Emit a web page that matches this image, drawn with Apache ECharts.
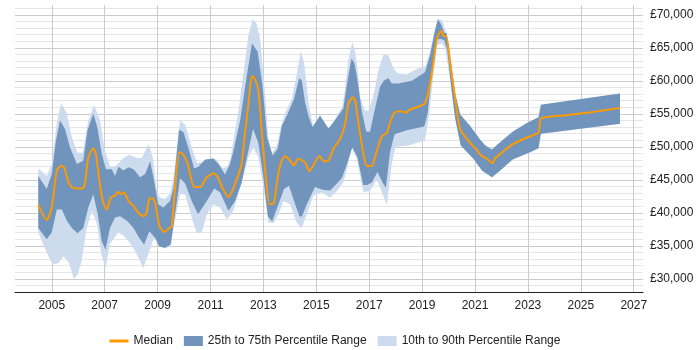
<!DOCTYPE html>
<html>
<head>
<meta charset="utf-8">
<script src="https://cdn.jsdelivr.net/npm/echarts@6/dist/echarts.min.js"></script>
<style>html,body{margin:0;padding:0;background:#fff}#chart{width:700px;height:350px}</style>
</head>
<body>
<div id="chart"></div>
<script>
// [year, salary]
const median = [[2004.49,41200],[2004.81,38900],[2005.00,40800],[2005.19,46400],[2005.34,47100],[2005.47,46900],[2005.63,44600],[2005.79,43800],[2006.01,43700],[2006.17,43700],[2006.26,44600],[2006.38,48400],[2006.57,49800],[2006.67,48900],[2006.80,44900],[2006.93,41800],[2007.08,40500],[2007.23,42300],[2007.39,42600],[2007.52,43200],[2007.61,42800],[2007.73,43100],[2007.90,41800],[2008.09,41000],[2008.27,40000],[2008.46,39500],[2008.57,39800],[2008.69,42100],[2008.82,42200],[2008.91,41500],[2009.07,38000],[2009.25,37100],[2009.45,37700],[2009.54,38000],[2009.66,43800],[2009.82,49200],[2009.98,48800],[2010.16,47100],[2010.38,43900],[2010.61,43900],[2010.86,45400],[2011.11,46000],[2011.28,45400],[2011.45,43800],[2011.68,42400],[2011.87,43800],[2012.16,47100],[2012.31,52200],[2012.43,56300],[2012.56,60700],[2012.65,60500],[2012.81,58600],[2012.94,52200],[2013.10,45100],[2013.23,41300],[2013.40,41500],[2013.53,45100],[2013.66,47600],[2013.82,48600],[2014.01,47900],[2014.16,47200],[2014.32,48200],[2014.58,47600],[2014.73,46300],[2014.89,47200],[2015.12,48600],[2015.29,47800],[2015.46,47900],[2015.65,49700],[2015.90,51200],[2016.09,53500],[2016.21,56500],[2016.37,57500],[2016.47,57000],[2016.59,53700],[2016.78,48900],[2016.91,47100],[2017.10,47100],[2017.22,48400],[2017.35,50200],[2017.50,51700],[2017.67,52100],[2017.79,53700],[2017.95,55200],[2018.17,55400],[2018.42,55200],[2018.51,55600],[2018.80,56000],[2019.11,56600],[2019.30,59500],[2019.43,62900],[2019.56,66400],[2019.72,67600],[2019.81,66800],[2019.91,66800],[2020.06,62800],[2020.22,58100],[2020.44,52700],[2020.81,50600],[2021.04,49700],[2021.22,48700],[2021.45,48200],[2021.66,47500],[2021.76,48300],[2022.07,49300],[2022.39,50300],[2022.89,51300],[2023.40,52200],[2023.49,54300],[2024.47,54800],[2025.48,55300],[2026.48,55900]];

const p75 = [[2004.49,45600],[2004.81,43600],[2005.00,45900],[2005.16,51000],[2005.31,54000],[2005.50,52700],[2005.69,49900],[2005.95,47400],[2006.19,47900],[2006.35,52500],[2006.57,55000],[2006.72,53000],[2006.89,48900],[2007.05,46600],[2007.27,46600],[2007.39,45600],[2007.52,47000],[2007.71,46400],[2007.90,46900],[2008.09,46600],[2008.34,45400],[2008.53,45900],[2008.72,47800],[2008.84,45400],[2009.03,41300],[2009.22,40800],[2009.47,41800],[2009.60,43800],[2009.81,52600],[2009.98,52200],[2010.16,49900],[2010.38,46700],[2010.54,47000],[2010.80,48100],[2011.11,48200],[2011.30,47400],[2011.55,45800],[2011.74,47400],[2011.87,49400],[2012.12,54000],[2012.37,60700],[2012.57,65700],[2012.78,64400],[2012.97,59200],[2013.14,51400],[2013.35,48700],[2013.54,49700],[2013.70,53200],[2013.92,55000],[2014.16,57300],[2014.35,60400],[2014.45,60100],[2014.58,56600],[2014.73,54300],[2014.86,53000],[2015.14,54700],[2015.46,52800],[2015.75,54300],[2016.02,55800],[2016.17,59800],[2016.33,63400],[2016.43,62800],[2016.54,60600],[2016.72,55400],[2016.89,52300],[2017.03,52300],[2017.22,55800],[2017.41,59100],[2017.56,60100],[2017.73,60400],[2017.85,59600],[2018.10,59600],[2018.61,60000],[2019.11,61300],[2019.30,63900],[2019.49,67700],[2019.59,69300],[2019.72,68600],[2019.83,67300],[2019.93,67200],[2020.06,63600],[2020.25,58100],[2020.44,54900],[2020.81,53200],[2021.19,51100],[2021.39,50200],[2021.64,49600],[2021.95,50700],[2022.42,52300],[2022.96,53600],[2023.40,54500],[2023.49,56400],[2026.48,58100]];

const p25 = [[2004.49,37700],[2004.81,36000],[2005.00,37000],[2005.19,40500],[2005.38,40500],[2005.57,38800],[2005.76,37700],[2005.97,36900],[2006.19,37700],[2006.38,40800],[2006.57,42800],[2006.74,39800],[2006.89,35700],[2007.03,34400],[2007.20,37700],[2007.39,39300],[2007.58,39500],[2007.84,38800],[2008.09,37700],[2008.31,36200],[2008.49,35200],[2008.69,37200],[2008.91,36200],[2009.06,34900],[2009.28,34700],[2009.50,35200],[2009.66,39800],[2009.85,45200],[2010.04,44500],[2010.29,41800],[2010.53,39800],[2010.86,41800],[2011.14,43700],[2011.36,43100],[2011.68,40300],[2011.93,41800],[2012.18,44600],[2012.43,49400],[2012.61,52700],[2012.81,50600],[2013.00,45300],[2013.17,39500],[2013.33,38700],[2013.57,41300],[2013.78,43600],[2013.97,44100],[2014.16,41800],[2014.36,39500],[2014.45,39400],[2014.64,41300],[2014.95,43900],[2015.24,43500],[2015.52,43400],[2015.79,44500],[2015.97,45300],[2016.15,47300],[2016.36,49900],[2016.55,48500],[2016.77,44200],[2016.92,44200],[2017.10,44600],[2017.31,46200],[2017.52,44500],[2017.63,43800],[2017.79,49300],[2017.96,51900],[2018.42,52500],[2019.08,53100],[2019.21,55100],[2019.37,61200],[2019.53,66200],[2019.68,66400],[2019.83,66200],[2019.95,64700],[2020.11,58700],[2020.25,54300],[2020.46,50200],[2020.94,48200],[2021.26,46400],[2021.64,45400],[2021.95,46400],[2022.42,48100],[2023.08,49200],[2023.40,49800],[2023.49,52000],[2026.48,53500]];

const p90 = [[2004.49,46700],[2004.81,45600],[2005.00,47400],[2005.19,53500],[2005.35,56600],[2005.57,55100],[2005.76,51400],[2005.97,49100],[2006.17,49100],[2006.38,54000],[2006.60,56400],[2006.83,54000],[2006.98,49900],[2007.20,47000],[2007.39,47000],[2007.71,48300],[2007.93,48800],[2008.21,48300],[2008.40,48300],[2008.66,50400],[2008.82,48400],[2008.97,43300],[2009.09,42300],[2009.28,42100],[2009.47,42900],[2009.60,45300],[2009.85,54000],[2010.04,53400],[2010.29,49900],[2010.49,47600],[2010.80,47700],[2011.05,48400],[2011.24,48100],[2011.44,46800],[2011.63,46900],[2011.76,48400],[2011.88,51300],[2012.05,55200],[2012.24,61000],[2012.43,66800],[2012.60,69400],[2012.75,68600],[2012.88,66200],[2013.06,58100],[2013.19,51300],[2013.33,49100],[2013.51,50200],[2013.65,52900],[2013.82,55100],[2014.07,57200],[2014.24,60600],[2014.41,64500],[2014.54,62800],[2014.73,56000],[2014.88,53200],[2015.14,54800],[2015.41,53100],[2015.59,52500],[2015.78,54800],[2015.98,56000],[2016.09,58900],[2016.21,63100],[2016.36,65900],[2016.47,64400],[2016.54,62400],[2016.66,57500],[2016.83,55500],[2017.00,55500],[2017.19,58300],[2017.35,61600],[2017.55,64100],[2017.73,63800],[2017.92,61900],[2018.06,61200],[2018.42,61000],[2018.80,61800],[2019.13,62200],[2019.30,64500],[2019.49,67900],[2019.61,69400],[2019.76,69200],[2019.89,67600],[2020.06,63600],[2020.25,58100],[2020.44,54900],[2020.81,53200],[2021.19,51100],[2021.39,50200],[2021.64,49600],[2021.95,50700],[2022.42,52300],[2022.96,53600],[2023.40,54500],[2023.49,56400],[2026.48,58100]];

const p10 = [[2004.49,37000],[2004.75,34500],[2005.00,32400],[2005.12,32200],[2005.25,32400],[2005.44,33400],[2005.64,32500],[2005.84,30000],[2005.98,30700],[2006.13,32700],[2006.32,37700],[2006.52,40300],[2006.71,38300],[2006.86,33900],[2007.03,31600],[2007.20,35300],[2007.51,37000],[2007.73,36500],[2007.96,35400],[2008.19,33900],[2008.46,31600],[2008.66,33900],[2008.87,36200],[2009.09,34900],[2009.28,34600],[2009.47,34900],[2009.60,37700],[2009.85,42800],[2010.04,42800],[2010.29,39300],[2010.48,36900],[2010.67,37000],[2010.86,39800],[2011.11,41300],[2011.36,40800],[2011.62,39000],[2011.87,40300],[2012.12,43800],[2012.43,48400],[2012.62,49900],[2012.81,48400],[2013.06,42300],[2013.19,38500],[2013.40,38500],[2013.57,39800],[2013.76,41800],[2014.01,41300],[2014.26,38500],[2014.45,37700],[2014.64,39800],[2014.89,42600],[2015.21,43100],[2015.52,42300],[2015.78,43300],[2016.02,44600],[2016.17,46800],[2016.34,49900],[2016.53,48200],[2016.78,43100],[2017.03,43300],[2017.29,45100],[2017.52,42700],[2017.67,41200],[2017.85,47400],[2018.00,50000],[2018.48,50200],[2019.11,51000],[2019.25,54500],[2019.43,60900],[2019.56,65400],[2019.74,65700],[2019.87,64900],[2020.11,58700],[2020.25,54300],[2020.46,50200],[2020.94,48200],[2021.26,46400],[2021.64,45400],[2021.95,46400],[2022.42,48100],[2023.08,49200],[2023.40,49800],[2023.49,52000],[2026.48,53500]];

const yearTicks = [2005, 2007, 2009, 2011, 2013, 2015, 2017, 2019, 2021, 2023, 2025, 2027];

const NAME_MED = 'Median';
const NAME_IQR = '25th to 75th Percentile Range';
const NAME_DEC = '10th to 90th Percentile Range';
const C_MED = '#ff9900';
const C_IQR = '#7094bc';
const C_DEC = '#ccdcee';

function band(top, bottom, color) {
  return function (params, api) {
    if (params.dataIndex !== 0) return null;
    const pts = top.map(p => api.coord(p)).concat(bottom.slice().reverse().map(p => api.coord(p)));
    return { type: 'polygon', shape: { points: pts }, style: { fill: color } };
  };
}

function money(v) {
  return '£' + String(v).replace(/\B(?=(\d{3})+(?!\d))/g, ',');
}

const chart = echarts.init(document.getElementById('chart'), null, { renderer: 'canvas' });
const font = 'Liberation Sans, Arial, sans-serif';
chart.setOption({
  animation: false,
  backgroundColor: '#fff',
  textStyle: { fontFamily: font },
  grid: { left: 15, right: 57, top: 5, bottom: 58, containLabel: false },
  legend: {
    left: 103, top: 330,
    itemWidth: 19, itemHeight: 10, itemGap: 11,
    textStyle: { fontSize: 12, color: '#222', fontFamily: font },
    data: [
      { name: NAME_MED, itemStyle: { opacity: 0 }, lineStyle: { width: 3, color: C_MED } },
      { name: NAME_IQR, icon: 'rect' },
      { name: NAME_DEC, icon: 'rect' }
    ]
  },
  xAxis: {
    type: 'value', min: 2003.61, max: 2027.35,
    axisLine: { show: true, lineStyle: { color: '#222', width: 1 } },
    axisTick: { show: false, customValues: yearTicks },
    axisLabel: { customValues: yearTicks, color: '#222', fontSize: 12, margin: 8, fontFamily: font, formatter: v => String(v) },
    splitLine: { show: true, lineStyle: { color: '#cccccc', width: 1 } }
  },
  yAxis: {
    type: 'value', position: 'right', min: 28000, max: 71500, interval: 1000,
    axisLine: { show: false }, axisTick: { show: false },
    axisLabel: {
      color: '#222', fontSize: 12, margin: 7, fontFamily: font,
      formatter: v => (v % 5000 === 0 ? money(v) : '')
    },
    splitLine: {
      show: true, showMinLine: false, showMaxLine: false,
      lineStyle: { color: ['#e6e6e6', '#cccccc', '#e6e6e6', '#e6e6e6', '#e6e6e6'], width: 1 }
    }
  },
  series: [
    {
      name: NAME_DEC, type: 'custom', z: 1,
      itemStyle: { color: C_DEC },
      encode: { x: 0, y: 1 },
      data: p90.concat(p10),
      renderItem: band(p90, p10, C_DEC)
    },
    {
      name: NAME_IQR, type: 'custom', z: 2,
      itemStyle: { color: C_IQR },
      encode: { x: 0, y: 1 },
      data: p75.concat(p25),
      renderItem: band(p75, p25, C_IQR)
    },
    {
      name: NAME_MED, type: 'line', z: 3,
      data: median, symbol: 'none', smooth: 0.2,
      lineStyle: { color: C_MED, width: 2 }, itemStyle: { color: C_MED }
    }
  ]
});
</script>
</body>
</html>
